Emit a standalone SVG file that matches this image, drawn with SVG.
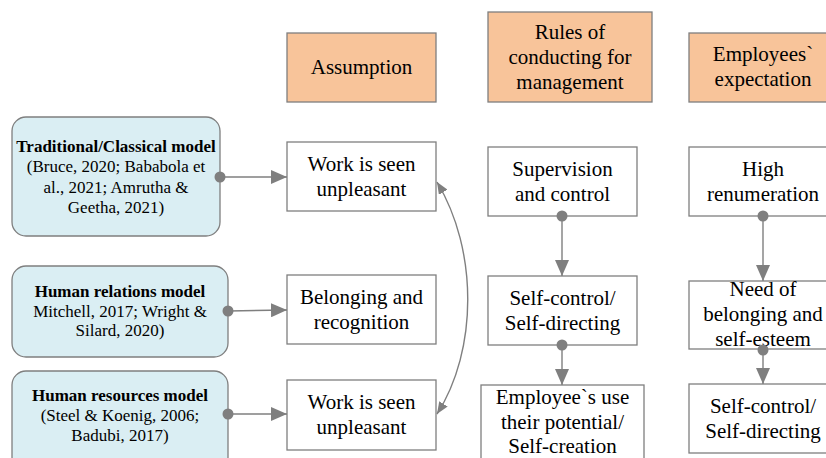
<svg xmlns="http://www.w3.org/2000/svg" width="826" height="458" viewBox="0 0 826 458">
<style>
.hdr{fill:#F8C49A;stroke:#7F7F7F;stroke-width:1.3}
.box{fill:#FFFFFF;stroke:#7F7F7F;stroke-width:1.3}
.mdl{fill:#DAEEF3;stroke:#7F7F7F;stroke-width:1.3}
.c{fill:none;stroke:#7F7F7F;stroke-width:1.4}
.dot{fill:#7F7F7F}
</style>
<defs>
<marker id="ah" markerUnits="userSpaceOnUse" markerWidth="16" markerHeight="14" refX="16" refY="7" orient="auto">
<path d="M0,0 L16,7 L0,14 Z" fill="#7F7F7F"/>
</marker>
<marker id="ahs" markerUnits="userSpaceOnUse" markerWidth="12" markerHeight="10" refX="12" refY="5" orient="auto-start-reverse">
<path d="M0,0 L12,5 L0,10 Z" fill="#7F7F7F"/>
</marker>
</defs>
<rect x="0" y="0" width="826" height="458" fill="#FFFFFF"/>
<g id="hdr-assumption"><rect class="hdr" x="287" y="33" width="149" height="69"/><text font-family="Liberation Serif" font-size="21" text-anchor="middle" x="361.5" y="74">Assumption</text></g>
<g id="hdr-rules"><rect class="hdr" x="488" y="12" width="164" height="90"/><text font-family="Liberation Serif" font-size="21" text-anchor="middle" x="570" y="39">Rules of</text><text font-family="Liberation Serif" font-size="21" text-anchor="middle" x="570" y="64">conducting for</text><text font-family="Liberation Serif" font-size="21" text-anchor="middle" x="570" y="89">management</text></g>
<g id="hdr-expect"><rect class="hdr" x="689" y="33" width="148" height="69"/><text font-family="Liberation Serif" font-size="21" text-anchor="middle" x="763" y="61">Employees`</text><text font-family="Liberation Serif" font-size="21" text-anchor="middle" x="763" y="86">expectation</text></g>

<g id="a-work1"><rect class="box" x="287" y="142" width="149" height="69"/><text font-family="Liberation Serif" font-size="21" text-anchor="middle" x="361.5" y="171">Work is seen</text><text font-family="Liberation Serif" font-size="21" text-anchor="middle" x="361.5" y="196">unpleasant</text></g>
<g id="a-belonging"><rect class="box" x="287" y="275" width="149" height="69"/><text font-family="Liberation Serif" font-size="21" text-anchor="middle" x="361.5" y="304">Belonging and</text><text font-family="Liberation Serif" font-size="21" text-anchor="middle" x="361.5" y="329">recognition</text></g>
<g id="a-work2"><rect class="box" x="287" y="380" width="149" height="70"/><text font-family="Liberation Serif" font-size="21" text-anchor="middle" x="361.5" y="409">Work is seen</text><text font-family="Liberation Serif" font-size="21" text-anchor="middle" x="361.5" y="434">unpleasant</text></g>

<g id="r-supervision"><rect class="box" x="488" y="147" width="149" height="69"/><text font-family="Liberation Serif" font-size="21" text-anchor="middle" x="562.5" y="176">Supervision</text><text font-family="Liberation Serif" font-size="21" text-anchor="middle" x="562.5" y="201">and control</text></g>
<g id="r-selfcontrol"><rect class="box" x="488" y="276" width="149" height="69"/><text font-family="Liberation Serif" font-size="21" text-anchor="middle" x="562.5" y="305">Self-control/</text><text font-family="Liberation Serif" font-size="21" text-anchor="middle" x="562.5" y="330">Self-directing</text></g>
<g id="r-potential"><rect class="box" x="481" y="385" width="163" height="85"/><text font-family="Liberation Serif" font-size="21" text-anchor="middle" x="562.5" y="404">Employee`s use</text><text font-family="Liberation Serif" font-size="21" text-anchor="middle" x="562.5" y="429">their potential/</text><text font-family="Liberation Serif" font-size="21" text-anchor="middle" x="562.5" y="453">Self-creation</text></g>

<g id="e-high"><rect class="box" x="689" y="147" width="148" height="69"/><text font-family="Liberation Serif" font-size="21" text-anchor="middle" x="763" y="176">High</text><text font-family="Liberation Serif" font-size="21" text-anchor="middle" x="763" y="201">renumeration</text></g>
<g id="e-need"><rect class="box" x="689" y="281" width="148" height="68"/><text font-family="Liberation Serif" font-size="21" text-anchor="middle" x="763" y="296">Need of</text><text font-family="Liberation Serif" font-size="21" text-anchor="middle" x="763" y="321">belonging and</text><text font-family="Liberation Serif" font-size="21" text-anchor="middle" x="763" y="346">self-esteem</text></g>
<g id="e-self"><rect class="box" x="689" y="384" width="148" height="69"/><text font-family="Liberation Serif" font-size="21" text-anchor="middle" x="763" y="413">Self-control/</text><text font-family="Liberation Serif" font-size="21" text-anchor="middle" x="763" y="438">Self-directing</text></g>

<g id="m-traditional"><rect class="mdl" x="12" y="117" width="208" height="119" rx="14"/><text font-family="Liberation Serif" font-size="17" text-anchor="middle" x="116" y="152" font-weight="bold">Traditional/Classical model</text><text font-family="Liberation Serif" font-size="17" text-anchor="middle" x="116" y="172">(Bruce, 2020; Bababola et</text><text font-family="Liberation Serif" font-size="17" text-anchor="middle" x="116" y="193">al., 2021; Amrutha &amp;</text><text font-family="Liberation Serif" font-size="17" text-anchor="middle" x="116" y="213">Geetha, 2021)</text></g>
<g id="m-relations"><rect class="mdl" x="12" y="266" width="216" height="91" rx="14"/><text font-family="Liberation Serif" font-size="17" text-anchor="middle" x="120" y="297" font-weight="bold">Human relations model</text><text font-family="Liberation Serif" font-size="17" text-anchor="middle" x="120" y="317">Mitchell, 2017; Wright &amp;</text><text font-family="Liberation Serif" font-size="17" text-anchor="middle" x="120" y="336">Silard, 2020)</text></g>
<g id="m-resources"><rect class="mdl" x="12" y="371" width="216" height="100" rx="14"/><text font-family="Liberation Serif" font-size="17" text-anchor="middle" x="120" y="401" font-weight="bold">Human resources model</text><text font-family="Liberation Serif" font-size="17" text-anchor="middle" x="120" y="421">(Steel &amp; Koenig, 2006;</text><text font-family="Liberation Serif" font-size="17" text-anchor="middle" x="120" y="441">Badubi, 2017)</text></g>

<g id="connectors">
<path class="c" d="M220,177 L287,177" marker-end="url(#ah)"/>
<path class="c" d="M228,311 L287,310" marker-end="url(#ah)"/>
<path class="c" d="M228,414 L287,414" marker-end="url(#ah)"/>
<path class="c" d="M562,216 L562,276" marker-end="url(#ah)"/>
<path class="c" d="M562,345 L562,385" marker-end="url(#ah)"/>
<path class="c" d="M763,216 L763,281" marker-end="url(#ah)"/>
<path class="c" d="M763,350 L763,384" marker-end="url(#ah)"/>
<path class="c" d="M437,182 C478,250 478,350 437,414" marker-start="url(#ahs)" marker-end="url(#ahs)"/>
<circle class="dot" cx="220" cy="177" r="5.5"/>
<circle class="dot" cx="228" cy="311" r="5.5"/>
<circle class="dot" cx="228" cy="414" r="5.5"/>
<circle class="dot" cx="562" cy="216" r="5.5"/>
<circle class="dot" cx="562" cy="345" r="5.5"/>
<circle class="dot" cx="763" cy="216" r="5.5"/>
<circle class="dot" cx="763" cy="350" r="5.5"/>
</g>
</svg>
